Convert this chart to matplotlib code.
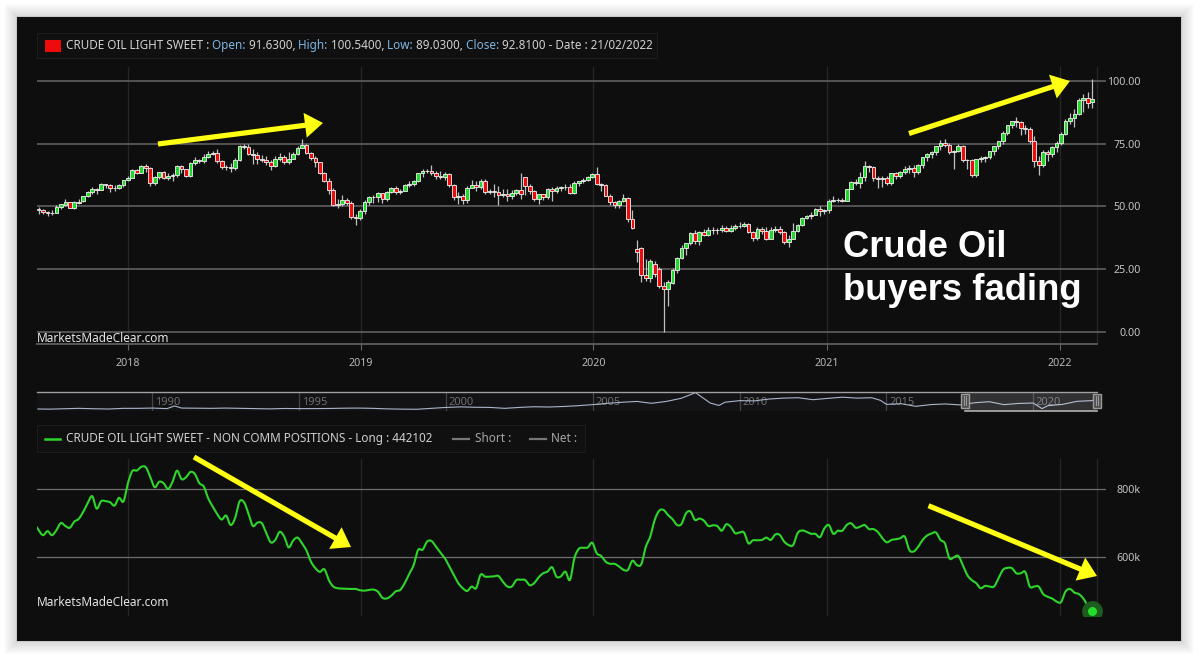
import matplotlib
matplotlib.use("Agg")
import matplotlib.pyplot as plt
import matplotlib.dates as mdates
from matplotlib.patches import Rectangle, FancyArrow
import pandas as pd
import numpy as np

# ---------------- DATA ----------------
opens = [
 48.8,48.6,47.9,47.2,47.5,49.9,50.6,51.7,49.3,51.4,51.9,54.0,55.6,56.7,56.6,58.9,58.4,57.4,57.3,58.5,
 60.4,61.4,64.3,63.4,66.1,65.4,59.2,61.7,63.5,61.2,62.0,62.3,65.9,64.9,62.0,67.4,68.4,68.1,69.7,70.7,71.3,67.9,65.8,65.7,65.1,68.6,74.2,73.8,71.0,70.5,68.7,68.5,67.6,65.9,68.7,69.8,67.8,69.0,70.8,73.25,74.34,71.3,69.1,67.6,63.1,60.2,56.5,50.4,50.9,52.6,51.2,45.6,
 45.3,48.3,51.6,53.8,53.7,55.3,52.7,55.6,57.3,55.8,56.1,58.5,59.0,60.1,63.1,63.9,64.0,63.3,61.9,61.7,62.8,58.6,53.5,54.0,52.5,57.4,58.5,57.5,60.2,55.6,56.2,55.7,54.5,54.9,54.2,55.1,56.5,61.5,58.1,55.9,52.8,54.7,53.8,56.7,56.2,57.2,57.7,57.8,55.2,59.2,60.1,60.4,61.7,
 63.05,59.0,58.5,54.2,51.6,50.3,52.0,53.4,44.8,32.8,33.4,22.4,21.3,27.0,24.8,18.3,16.9,19.6,24.6,29.4,33.3,35.3,39.5,36.3,39.8,38.5,40.6,40.6,40.6,41.3,40.3,41.2,42.0,42.3,43.0,39.8,37.3,41.1,40.25,37.05,40.6,40.9,39.85,35.8,37.1,40.1,42.4,45.5,46.3,46.6,49.1,48.2,
 48.5,52.2,52.4,52.3,52.2,56.9,59.5,59.2,61.5,66.1,65.6,61.4,61.0,61.45,59.3,63.1,62.1,63.6,64.9,65.4,63.6,66.3,69.6,70.9,71.6,74.05,75.2,74.6,71.8,72.1,73.95,68.3,68.4,62.3,68.7,69.3,69.7,71.97,73.98,75.9,79.35,82.3,83.8,83.6,81.3,80.8,76.1,68.2,66.3,71.7,70.9,73.8,
 75.2,78.9,83.8,85.1,86.8,92.3,93.1,91.63]
closes = [
 48.5,47.9,47.3,47.5,49.9,50.7,51.7,49.3,51.5,51.8,53.9,55.6,56.7,56.5,58.9,58.4,57.4,57.3,58.5,60.4,
 61.4,64.3,63.4,66.1,65.4,59.2,61.7,63.5,61.2,62.0,62.3,65.9,64.9,62.0,67.4,68.4,68.1,69.7,70.7,71.3,67.9,65.8,65.7,65.1,68.6,74.2,73.8,71.0,70.5,68.7,68.5,67.6,65.9,68.7,69.8,67.8,69.0,70.8,73.25,74.34,71.3,69.1,67.6,63.1,60.2,56.5,50.4,50.9,52.6,51.2,45.6,45.3,
 48.3,51.6,53.8,53.7,55.3,52.7,55.6,57.3,55.8,56.1,58.5,59.0,60.1,63.1,63.9,64.0,63.3,61.9,61.7,62.8,58.6,53.5,54.0,52.5,57.4,58.5,57.5,60.2,55.6,56.2,55.7,54.5,54.9,54.2,55.1,56.5,54.85,58.1,55.9,52.8,54.7,53.8,56.7,56.2,57.2,57.7,57.8,55.2,59.2,60.1,60.4,61.7,63.05,
 59.0,58.5,54.2,51.6,50.3,52.0,53.4,44.8,41.3,31.7,22.4,21.5,28.3,22.8,18.3,16.9,19.8,24.7,29.4,33.3,35.3,39.5,36.3,39.8,38.5,40.6,40.6,40.6,41.3,40.3,41.2,42.0,42.3,43.0,39.8,37.3,41.1,40.25,37.05,40.6,40.9,39.85,35.8,37.1,40.1,42.4,45.5,46.3,46.6,49.1,48.2,48.5,
 52.2,52.4,52.3,52.2,56.9,59.5,59.2,61.5,66.1,65.6,61.4,61.0,61.45,59.3,63.1,62.1,63.6,64.9,65.4,63.6,66.3,69.6,70.9,71.6,74.05,75.2,74.6,71.8,72.1,73.95,68.3,68.4,62.3,68.7,69.3,69.7,71.97,73.98,75.9,79.35,82.3,83.8,83.6,81.3,80.8,76.1,68.2,66.3,71.7,70.9,73.8,75.2,
 78.9,83.8,85.1,86.8,92.3,93.1,91.1,92.81]
highs = [
 49.7,49.0,48.3,48.5,50.3,51.0,52.8,51.8,51.9,52.8,54.1,55.9,57.7,57.1,59.1,59.0,58.9,58.3,58.9,60.5,
 61.9,64.7,64.9,66.6,66.7,65.8,61.9,63.7,64.2,63.1,63.4,66.5,66.6,65.0,67.6,69.6,69.0,70.8,71.9,72.2,72.8,68.6,66.5,67.2,69.3,74.5,75.0,74.7,72.7,71.8,70.4,69.9,68.5,69.9,71.4,70.4,71.8,71.8,73.9,76.9,74.9,71.8,70.0,67.7,63.7,61.3,57.3,52.9,54.5,53.3,52.2,47.0,
 49.0,52.3,54.1,54.5,55.8,55.4,56.1,57.8,57.9,56.9,58.9,60.2,60.5,63.4,64.8,64.7,66.6,64.0,63.9,63.7,63.4,59.0,55.6,54.9,58.2,60.3,59.9,60.9,60.9,57.0,58.8,57.9,56.7,56.9,56.4,57.0,63.4,60.3,58.7,56.3,55.0,54.8,57.2,57.8,57.9,58.0,58.7,58.7,59.9,60.1,61.3,62.0,63.4,
 65.6,59.4,58.9,54.9,52.2,52.4,54.7,53.8,48.7,36.5,33.6,29.1,29.0,28.3,25.6,20.0,20.5,25.5,29.9,34.7,35.5,39.9,40.4,40.3,40.8,41.6,41.9,41.4,42.5,42.0,42.6,43.0,43.8,43.8,43.5,40.2,41.6,41.7,41.7,41.7,42.1,42.0,40.0,38.5,43.2,43.0,45.8,46.7,47.7,49.3,50.0,48.9,
 52.8,53.9,53.3,53.4,57.0,60.0,60.9,63.8,67.9,66.4,66.0,62.0,61.9,61.9,63.2,63.8,64.0,66.1,66.4,66.5,66.7,69.8,71.2,72.2,74.2,76.4,76.9,75.4,72.3,74.7,74.4,69.0,69.0,68.9,70.0,70.2,72.0,74.2,76.0,79.8,82.5,84.0,85.4,84.0,82.5,81.5,78.0,70.0,72.5,72.5,74.0,76.0,
 79.5,84.7,87.0,88.7,93.0,94.7,95.7,100.54]
lows = [
 46.8,47.0,46.3,46.5,47.2,49.0,50.1,49.2,49.0,50.8,51.5,53.8,55.0,54.8,56.5,57.1,55.8,56.1,57.0,57.6,
 59.9,61.1,62.9,63.2,63.7,58.1,58.6,60.8,60.7,60.4,60.2,61.5,63.2,61.8,61.8,66.3,67.4,67.3,69.2,70.3,67.3,64.9,64.3,63.6,64.4,68.2,72.9,70.5,67.0,67.0,67.7,66.6,64.5,65.6,68.2,66.8,66.9,68.8,70.5,73.2,70.7,68.5,65.7,62.7,59.5,54.9,50.2,49.4,50.1,50.3,45.0,42.4,
 44.4,47.1,50.5,51.3,51.8,51.2,52.0,55.4,54.8,54.8,55.9,57.6,58.1,59.5,61.8,63.1,62.6,60.7,60.9,60.5,57.6,52.4,50.7,50.7,51.3,57.2,56.0,56.9,54.7,54.9,53.5,50.5,53.5,52.1,52.7,54.6,52.9,54.5,54.8,51.9,50.9,52.3,52.8,52.0,55.3,56.0,56.5,54.9,55.0,58.1,59.4,60.0,61.1,
 58.5,56.0,54.6,50.5,49.3,49.4,51.5,43.9,41.0,27.9,20.0,20.4,19.9,22.0,17.3,0.0,10.1,19.1,23.5,28.9,30.7,34.7,35.0,34.7,38.0,38.1,39.0,39.1,39.7,39.7,39.8,40.7,41.4,41.6,39.4,36.1,36.7,39.1,36.6,37.0,39.6,39.0,35.0,33.6,37.0,39.9,42.0,44.8,45.0,46.4,46.2,46.9,
 47.2,51.5,51.5,51.5,52.0,56.7,58.5,57.3,59.9,63.8,60.2,57.3,57.6,58.4,58.5,60.7,61.3,62.8,63.3,61.6,63.0,65.3,68.0,69.2,70.5,72.5,73.7,71.0,65.0,71.5,67.5,65.0,61.7,61.5,67.5,67.8,68.8,70.5,73.0,74.9,78.3,81.0,81.7,78.3,78.8,75.3,65.8,62.5,65.8,68.0,69.5,71.8,
 74.3,78.3,82.6,81.6,86.5,87.5,89.3,89.03]
positions_long_k = [
 702,680,665,677,665,680,701,692,687,705,713,734,759,780,743,765,765,762,752,775,764,818,854,855,866,865,837,806,822,818,801,822,855,830,835,851,845,818,808,773,749,727,711,723,695,715,764,762,729,692,702,700,671,644,651,675,661,629,649,658,641,620,587,568,557,565,533,514,509,508,507,507,507,503,502,504,505,499,481,479,487,500,504,524,551,577,622,622,646,648,631,614,597,573,548,524,509,501,514,509,549,543,543,544,545,528,514,514,533,534,533,518,524,541,553,558,571,543,544,558,533,597,625,628,629,643,612,
 604,587,581,581,573,563,563,590,577,580,631,661,710,737,739,724,712,695,698,729,735,710,714,708,692,694,692,678,697,690,671,673,673,641,650,650,651,658,651,667,666,646,636,636,671,679,675,669,669,659,685,695,669,678,678,695,700,687,690,695,683,683,674,656,644,651,653,656,661,622,617,631,651,664,670,673,651,641,597,600,604,577,548,533,524,509,516,514,514,538,563,569,568,553,553,557,514,514,514,492,484,479,470,468,499,507,496,492,479,457,442.102]
nav_years = [1986.1,1986.5,1987,1987.5,1988,1988.5,1989,1989.5,1990,1990.5,1990.75,1991,1991.5,1992,1992.5,1993,1993.5,1994,1994.5,1995,1995.5,1996,1996.5,1997,1997.5,1998,1998.5,1999,1999.5,2000,2000.5,2001,2001.5,2002,2002.5,2003,2003.5,2004,2004.5,2005,2005.5,2006,2006.5,2007,2007.5,2008,2008.5,2009,2009.3,2009.5,2010,2010.5,2011,2011.5,2012,2012.5,2013,2013.5,2014,2014.5,2014.8,2015,2015.5,2016,2016.5,2017,2017.5,2018,2018.5,2019,2019.5,2020,2020.3,2020.5,2021,2021.5,2022,2022.15]
nav_prices = [15,14,17,20,17,15,20,20,22,18,38,22,21,20,22,20,18,16,19,18,18,19,21,22,20,16,14,13,20,27,31,28,27,20,27,32,30,34,40,48,58,66,72,58,72,95,138,60,42,66,78,76,90,97,100,85,95,104,97,100,80,50,55,35,48,53,46,62,70,48,57,60,18,40,50,73,78,92]
year_ticks = [2018, 2019, 2020, 2021, 2022]
price_ticks = [0, 25, 50, 75, 100]
price_labels = ["0.00", "25.00", "50.00", "75.00", "100.00"]
pos_ticks = [600, 800]
pos_labels = ["600k", "800k"]
nav_ticks = [1990, 1995, 2000, 2005, 2010, 2015, 2020]

# ---------------- SETUP ----------------
W, H = 1200, 662
BG = "#0e0e0f"
FONT = "Noto Sans"
plt.rcParams["font.family"] = FONT
fig = plt.figure(figsize=(W/100, H/100), dpi=100, facecolor="white")

def axpx(x0, y0, x1, y1, **kw):
    return fig.add_axes([x0/W, 1-y1/H, (x1-x0)/W, (y1-y0)/H], **kw)

def smooth(x, y, n=6):
    """Catmull-Rom rendering of a line through its data points (curve style only)."""
    x, y = np.asarray(x, float), np.asarray(y, float)
    xs, ys = [x[0]], [y[0]]
    for i in range(len(x)-1):
        i0, i3 = max(i-1, 0), min(i+2, len(x)-1)
        for t in np.linspace(0, 1, n+1)[1:]:
            for arr, out in ((x, xs), (y, ys)):
                p0, p1, p2, p3 = arr[i0], arr[i], arr[i+1], arr[i3]
                out.append(0.5*(2*p1 + (p2-p0)*t + (2*p0-5*p1+4*p2-p3)*t**2 + (3*p1-p0-3*p2+p3)*t**3))
    return xs, ys

base = axpx(0, 0, W, H, zorder=0)
base.set_xlim(0, W); base.set_ylim(H, 0); base.axis("off")
for i in range(13, 0, -1):
    base.add_patch(Rectangle((17-i, 17-i), 1164+2*i, 624+2*i, fc="black", ec="none", alpha=0.011))
base.add_patch(Rectangle((16.3, 16.3), 1165.4, 625.4, fc="#c8c8c8", ec="none"))
base.add_patch(Rectangle((17, 17), 1164, 624, fc=BG, ec="none"))

over = axpx(0, 0, W, H, zorder=10)
over.set_xlim(0, W); over.set_ylim(H, 0); over.axis("off"); over.patch.set_alpha(0)

dates = pd.date_range(end="2022-02-21", periods=len(closes), freq="7D")
o, c, h, l = map(np.array, (opens, closes, highs, lows))
assert len(o) == len(c) == len(h) == len(l) == 237, (len(o), len(c), len(h), len(l))
dn = mdates.date2num(dates)
d18 = mdates.date2num(pd.Timestamp("2018-01-01"))
K = 0.6378   # px per day
PX18 = 127.9
xl = (d18 - (PX18-37)/K, d18 + (1106-PX18)/K)
def px2d(p):
    return d18 + (p-PX18)/K
yrs = mdates.date2num([pd.Timestamp(f"{y}-01-01") for y in year_ticks])
TICK_FS = 7.7

# ---------------- PRICE PANEL ----------------
ax = axpx(37, 67, 1106, 344, zorder=2)
ax.patch.set_alpha(0)
ax.set_xlim(*xl)
ax.set_ylim(-(344-331.7)/2.509, 100+(80.8-67)/2.509)
for s in ax.spines.values():
    s.set_visible(False)
ax.spines["bottom"].set_visible(True)
ax.spines["bottom"].set_color("#5e5e5e"); ax.spines["bottom"].set_linewidth(1.3)
ax.spines["bottom"].set_bounds(xl[0], px2d(1097))
ax.set_yticks(price_ticks); ax.set_yticklabels(price_labels, ha="right")
ax.yaxis.tick_right()
ax.tick_params(axis="y", length=0, pad=25, labelcolor="#c4c4c4", labelsize=TICK_FS)
ax.set_xticks(yrs); ax.set_xticklabels([str(y) for y in year_ticks])
ax.tick_params(axis="x", length=4, pad=6, color="#666666", labelcolor="#b8b8b8", labelsize=TICK_FS)
ax.grid(axis="y", color="#5f5f5f", lw=1.2, zorder=1)
for d in list(yrs) + [px2d(1097)]:
    ax.axvline(d, color="#272727", lw=0.9, zorder=1)
ax.vlines(dn, np.clip(l, 0, None), h, color="#c0c0c0", lw=0.9, zorder=3)
up = c >= o
ax.bar(dn, np.abs(c-o), bottom=np.minimum(o, c), width=5.9,
       color=np.where(up, "#20d82a", "#ee0b0b"), edgecolor="#e8e8e8", linewidth=0.65, zorder=4)

# ---------------- POSITIONS PANEL ----------------
ax2 = axpx(37, 459, 1106, 616, zorder=2)
ax2.patch.set_alpha(0)
ax2.set_xlim(*xl)
ax2.set_ylim(600-(616-557.3)/0.34, 800+(489.3-459)/0.34)
for s in ax2.spines.values():
    s.set_visible(False)
ax2.set_yticks(pos_ticks); ax2.set_yticklabels(pos_labels, ha="right")
ax2.yaxis.tick_right()
ax2.tick_params(axis="y", length=0, pad=25, labelcolor="#c4c4c4", labelsize=TICK_FS)
ax2.set_xticks([])
ax2.grid(axis="y", color="#6e6e6e", lw=0.9, zorder=1)
for d in list(yrs) + [px2d(1097)]:
    ax2.axvline(d, color="#272727", lw=0.9, zorder=1)
ldates = mdates.date2num(pd.date_range(end="2022-02-21", periods=len(positions_long_k), freq="7D"))
sx, sy = smooth(ldates, positions_long_k)
ax2.plot(sx, sy, color="#2ed52a", lw=1.5, zorder=3, solid_joinstyle="round")
ax2.plot(ldates[-1], positions_long_k[-1], "o", ms=15, color="#1c5c1c", mec="none", zorder=4)
ax2.plot(ldates[-1], positions_long_k[-1], "o", ms=6.5, color="#22dd2a", mec="none", zorder=5)

# ---------------- NAVIGATOR ----------------
axn = axpx(37, 392, 1097, 411, zorder=2)
axn.patch.set_facecolor("#131316")
NK = 29.36
axn.set_xlim(1990+(37-152.4)/NK, 1990+(1097-152.4)/NK)
axn.set_ylim(0, 143)
for s in axn.spines.values():
    s.set_visible(False)
axn.set_xticks([]); axn.set_yticks([])
for y in nav_ticks:
    axn.axvline(y, color="#444444", lw=0.9, zorder=1)
    axn.text(y+0.09, 0.46, str(y), transform=axn.get_xaxis_transform(), color="#6e6e6e",
             fontsize=TICK_FS+0.3, va="center", ha="left", zorder=2)
axn.plot(nav_years, nav_prices, color="#a9b6cc", lw=0.8, zorder=3)

over.add_patch(Rectangle((964.5, 392), 132, 19, fc="#ffffff", alpha=0.13, ec="none"))
over.plot([964.5, 1096.5], [411, 411], color="#b0b0b0", lw=1.2)
over.plot([37, 1097], [391.7, 391.7], color="#a0a0a0", lw=1.0)
for x in (964.5, 1096.5):
    over.add_patch(Rectangle((x-4, 393.5), 8, 14.5, fc="#4d4d4d", ec="#9a9a9a", lw=1.0))
    over.plot([x-1, x-1], [396, 405], color="#999999", lw=0.8)
    over.plot([x+1, x+1], [396, 405], color="#999999", lw=0.8)

# ---------------- LEGENDS ----------------
rend = fig.canvas.get_renderer()
LEG_FS = 8.45
def segs(x, y, parts, fs=LEG_FS):
    for txt, col in parts:
        t = over.text(x, y, txt, color=col, fontsize=fs, va="center", ha="left")
        x = t.get_window_extent(rend).x1
    return x

over.add_patch(Rectangle((37, 33), 620, 25, fc="#101011", ec="#1c1c1e", lw=0.8))
over.add_patch(Rectangle((45, 39.5), 16, 12.5, fc="#ee0b0b", ec="none"))
BL, WT = "#7fb5e3", "#d0d0d0"
segs(66, 45.5, [("CRUDE OIL LIGHT SWEET : ", WT), ("Open: ", BL), ("91.6300, ", WT), ("High: ", BL),
                ("100.5400, ", WT), ("Low: ", BL), ("89.0300, ", WT), ("Close: ", BL),
                ("92.8100 - Date : 21/02/2022", WT)])

over.add_patch(Rectangle((37, 425), 548, 26.5, fc="#101011", ec="#1c1c1e", lw=0.8))
over.plot([45, 60], [438.5, 438.5], color="#2ed52a", lw=1.8)
over.text(66, 438.5, "CRUDE OIL LIGHT SWEET - NON COMM POSITIONS - Long : 442102", color=WT, fontsize=LEG_FS, va="center")
over.plot([453, 469], [438.5, 438.5], color="#777777", lw=1.6)
over.text(475, 438.5, "Short :", color="#a8a8a8", fontsize=LEG_FS, va="center")
over.plot([530, 546], [438.5, 438.5], color="#777777", lw=1.6)
over.text(551, 438.5, "Net :", color="#a8a8a8", fontsize=LEG_FS, va="center")

over.text(37, 338, "MarketsMadeClear.com", color="#e4e4e4", fontsize=8.55, va="center")
over.text(37, 603, "MarketsMadeClear.com", color="#e4e4e4", fontsize=8.55, va="center")

over.text(843, 247.5, "Crude Oil", color="white", fontsize=26.2, fontweight="bold",
          family="Liberation Sans", va="center", ha="left")
over.text(843, 290.5, "buyers fading", color="white", fontsize=26.2, fontweight="bold",
          family="Liberation Sans", va="center", ha="left")

# ---------------- ARROWS ----------------
arrows = [((158, 144), (323, 123)), ((909, 133.5), (1070, 81)),
          ((194, 457), (351, 547)), ((928.5, 505.7), (1097, 576))]
for (x0, y0), (x1, y1) in arrows:
    over.add_patch(FancyArrow(x0, y0, x1-x0, y1-y0, width=5.2, head_width=25, head_length=18,
                              length_includes_head=True, fc="#ffff14", ec="none", zorder=6))

fig.savefig("out.png", dpi=100, facecolor="white")
